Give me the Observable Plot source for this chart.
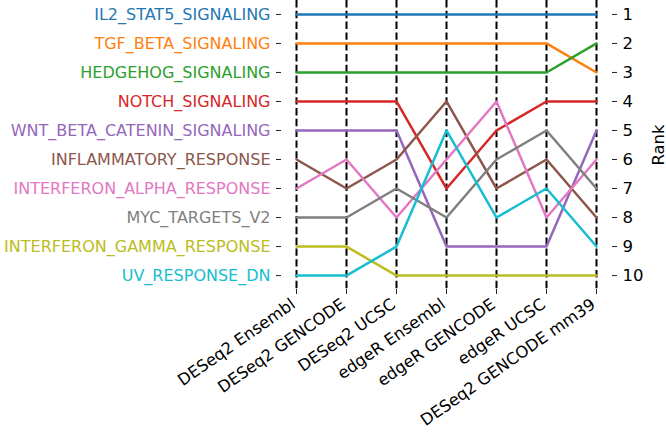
<!DOCTYPE html>
<html>
<head>
<meta charset="utf-8">
<script src="https://cdn.jsdelivr.net/npm/d3@7"></script>
<script src="https://cdn.jsdelivr.net/npm/@observablehq/plot@0.6"></script>
<style>
  html, body { margin: 0; padding: 0; background: #fff; }
  svg { font-family: "DejaVu Sans", sans-serif; }
</style>
</head>
<body>
<div id="chart"></div>
<script>
const methods = ["DESeq2 Ensembl", "DESeq2 GENCODE", "DESeq2 UCSC", "edgeR Ensembl", "edgeR GENCODE", "edgeR UCSC", "DESeq2 GENCODE mm39"];
const pathways = ["IL2_STAT5_SIGNALING", "TGF_BETA_SIGNALING", "HEDGEHOG_SIGNALING", "NOTCH_SIGNALING", "WNT_BETA_CATENIN_SIGNALING", "INFLAMMATORY_RESPONSE", "INTERFERON_ALPHA_RESPONSE", "MYC_TARGETS_V2", "INTERFERON_GAMMA_RESPONSE", "UV_RESPONSE_DN"];
const colors = ["#1f77b4", "#ff7f0e", "#2ca02c", "#d62728", "#9467bd", "#8c564b", "#e377c2", "#7f7f7f", "#bcbd22", "#17becf"];

const il2Ranks      = [1, 1, 1, 1, 1, 1, 1];
const tgfRanks      = [2, 2, 2, 2, 2, 2, 3];
const hedgehogRanks = [3, 3, 3, 3, 3, 3, 2];
const notchRanks    = [4, 4, 4, 7, 5, 4, 4];
const wntRanks      = [5, 5, 5, 9, 9, 9, 5];
const inflamRanks   = [6, 7, 6, 4, 7, 6, 8];
const ifnAlphaRanks = [7, 6, 8, 6, 4, 8, 6];
const mycRanks      = [8, 8, 7, 8, 6, 5, 7];
const ifnGammaRanks = [9, 9, 10, 10, 10, 10, 10];
const uvRanks       = [10, 10, 9, 5, 8, 7, 9];
const rankTicks = [1, 2, 3, 4, 5, 6, 7, 8, 9, 10];

const rankSets = [il2Ranks, tgfRanks, hedgehogRanks, notchRanks, wntRanks, inflamRanks, ifnAlphaRanks, mycRanks, ifnGammaRanks, uvRanks];
const rows = [];
pathways.forEach((p, i) => rankSets[i].forEach((r, j) => rows.push({pathway: p, color: colors[i], method: methods[j], rank: r})));

// label on left axis: pathway at that rank in the first column
const firstCol = new Map(pathways.map((p, i) => [rankSets[i][0], i]));

const chart = Plot.plot({
  width: 666,
  height: 432,
  marginLeft: 281,
  marginRight: 55,
  marginTop: 0,
  marginBottom: 143,
  style: {fontFamily: "DejaVu Sans, sans-serif", fontSize: "16px", color: "#000"},
  x: {type: "point", domain: methods, padding: 0.29},
  y: {domain: [10.48, 0.52]},
  marks: [
    Plot.ruleX(methods, {stroke: "black", strokeWidth: 2, strokeDasharray: "7.4,3.4"}),
    Plot.line(rows, {x: "method", y: "rank", z: "pathway", stroke: "color", strokeWidth: 2.5}),
    Plot.axisX({tickSize: 5, tickFormat: () => "", label: null, stroke: "#222"}),
    Plot.axisX({tickRotate: -35, tickSize: 0, tickPadding: 8, fontSize: 16.3, label: null, dx: -3, dy: 5}),
    Plot.axisY({anchor: "left", ticks: rankTicks, tickSize: 5, tickPadding: 6, fontSize: 16, label: null,
      tickFormat: r => pathways[firstCol.get(r)], fill: r => colors[firstCol.get(r)], stroke: "#222"}),
    Plot.axisY({anchor: "right", ticks: rankTicks, tickSize: 5, tickPadding: 6, fontSize: 16.5,
      tickFormat: d => String(d), label: "Rank", labelAnchor: "center", labelArrow: "none", labelOffset: 52, stroke: "#222"})
  ]
});
document.getElementById("chart").appendChild(chart);
</script>
</body>
</html>
